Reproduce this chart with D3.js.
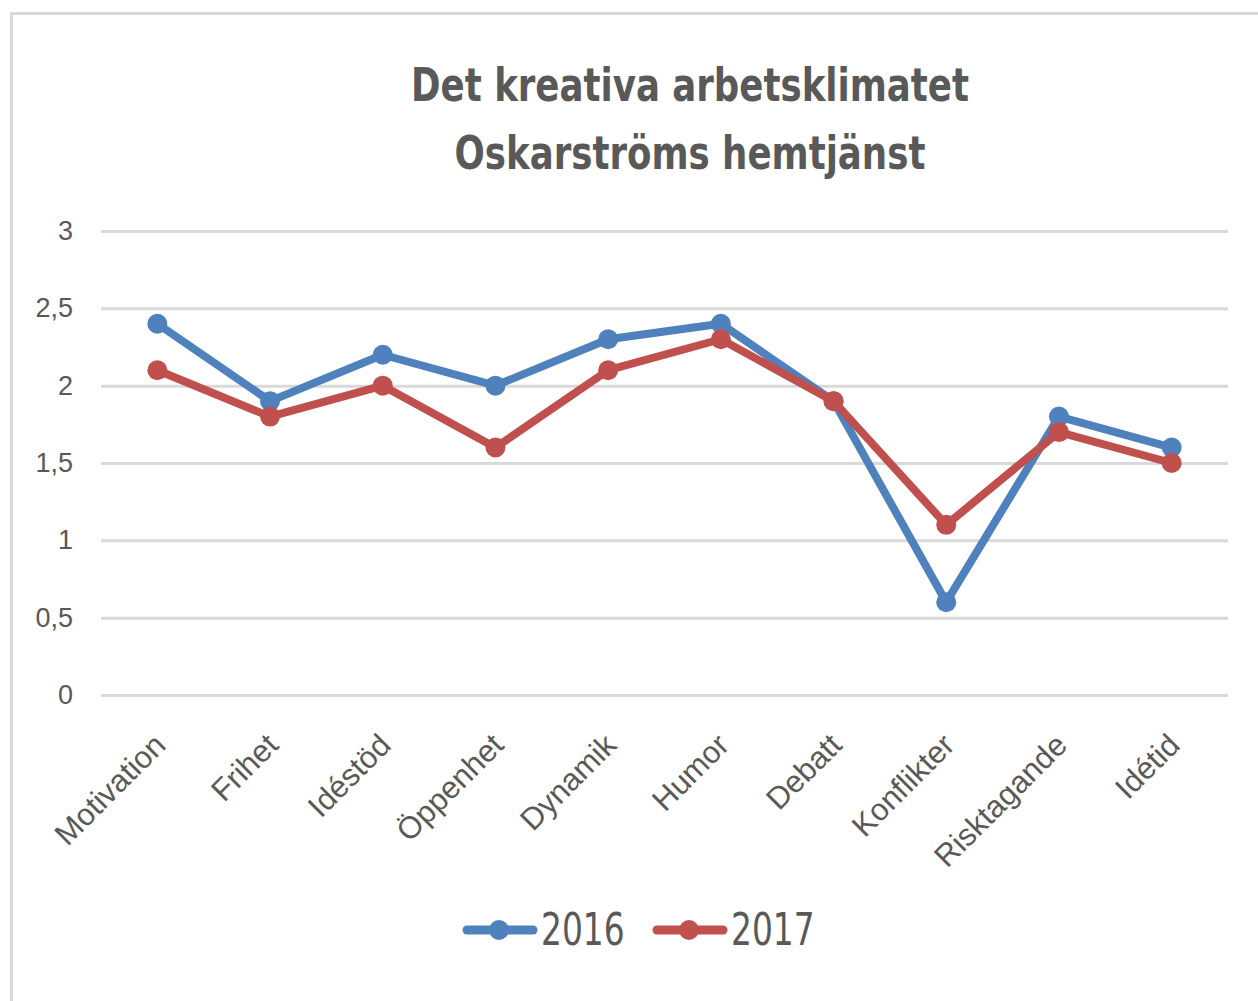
<!DOCTYPE html>
<html>
<head>
<meta charset="utf-8">
<script src="https://cdn.jsdelivr.net/npm/d3@7"></script>
<style>
  body { margin: 0; background: #fff; }
  text { fill: #595959; }
</style>
</head>
<body>
<div id="chart"></div>
<script>
// chart data
const categories = ["Motivation", "Frihet", "Idéstöd", "Öppenhet", "Dynamik",
  "Humor", "Debatt", "Konflikter", "Risktagande", "Idétid"];
const years = ["2016", "2017"];
const values2016 = [2.4, 1.9, 2.2, 2.0, 2.3, 2.4, 1.9, 0.6, 1.8, 1.6];
const values2017 = [2.1, 1.8, 2.0, 1.6, 2.1, 2.3, 1.9, 1.1, 1.7, 1.5];
const yTicks = [0, 0.5, 1, 1.5, 2, 2.5, 3];
const titleLines = ["Det kreativa arbetsklimatet", "Oskarströms hemtjänst"];

const colors = ["#4f81bd", "#c0504d"];

const svgWidth = 1258;
const svgHeight = 1001;

const margin = { top: 231, right: 30, bottom: 306, left: 101 };
const width = svgWidth - margin.left - margin.right;
const height = svgHeight - margin.top - margin.bottom;

const condensed = "'Liberation Sans Narrow', 'DejaVu Sans Condensed', sans-serif";

const svg = d3.select("#chart")
  .append("svg")
  .attr("width", svgWidth)
  .attr("height", svgHeight);

// outer frame
svg.append("rect")
  .attr("x", 11.5)
  .attr("y", 13.5)
  .attr("width", 1300)
  .attr("height", 1100)
  .attr("fill", "none")
  .attr("stroke", "#d9d9d9")
  .attr("stroke-width", 3);

// title, squeezed a bit to get the narrow look
svg.append("g")
  .attr("transform", "translate(690, 0) scale(0.86, 1)")
  .append("text")
  .attr("text-anchor", "middle")
  .style("font-family", condensed)
  .style("font-weight", "bold")
  .style("font-size", "46px")
  .selectAll("tspan")
  .data(titleLines)
  .enter()
  .append("tspan")
  .attr("x", 0)
  .attr("y", (d, i) => 101 + i * 68)
  .text(d => d);

const chartGroup = svg.append("g")
  .attr("transform", `translate(${margin.left}, ${margin.top})`);

const xScale = d3.scaleBand()
  .domain(categories)
  .range([0, width]);

const yScale = d3.scaleLinear()
  .domain([0, 3])
  .range([height, 0]);

// gridlines + y labels
const leftAxis = d3.axisLeft(yScale)
  .tickValues(yTicks)
  .tickSize(-width)
  .tickPadding(28)
  .tickFormat(d => String(d).replace(".", ","));

const yAxis = chartGroup.append("g")
  .call(leftAxis);
yAxis.select(".domain").remove();
yAxis.selectAll("line")
  .attr("stroke", "#d9d9d9")
  .attr("stroke-width", 3);
yAxis.selectAll("text")
  .attr("fill", "#595959")
  .style("font-family", "'Liberation Sans', Arial, sans-serif")
  .style("font-size", "27px");

// x labels
const bottomAxis = d3.axisBottom(xScale).tickSize(0).tickPadding(0);
const xAxis = chartGroup.append("g")
  .attr("transform", `translate(0, ${height})`)
  .call(bottomAxis);
xAxis.select(".domain").remove();
xAxis.selectAll("text")
  .attr("fill", "#595959")
  .attr("text-anchor", "end")
  .attr("dy", 0)
  .attr("y", 0)
  .attr("transform", "translate(10, 52) rotate(-45)")
  .style("font-family", "'Liberation Sans', Arial, sans-serif")
  .style("font-size", "31px");

const seriesData = [values2016, values2017];

const line = d3.line()
  .x((d, i) => xScale(categories[i]) + xScale.bandwidth() / 2)
  .y(d => yScale(d));

seriesData.forEach((vals, s) => {
  chartGroup.append("path")
    .datum(vals)
    .attr("d", line)
    .attr("fill", "none")
    .attr("stroke", colors[s])
    .attr("stroke-width", 8)
    .attr("stroke-linejoin", "round");

  chartGroup.selectAll(".dot" + s)
    .data(vals)
    .enter()
    .append("circle")
    .attr("cx", (d, i) => xScale(categories[i]) + xScale.bandwidth() / 2)
    .attr("cy", d => yScale(d))
    .attr("r", 10)
    .attr("fill", colors[s]);
});

// legend
const legend = svg.append("g")
  .attr("transform", "translate(463, 930)");

const legendItems = legend.selectAll("g")
  .data(years)
  .enter()
  .append("g")
  .attr("transform", (d, i) => `translate(${i * 190}, 0)`);

legendItems.append("line")
  .attr("x1", 4)
  .attr("x2", 70)
  .attr("stroke", (d, i) => colors[i])
  .attr("stroke-width", 9)
  .attr("stroke-linecap", "round");

legendItems.append("circle")
  .attr("cx", 36)
  .attr("r", 10)
  .attr("fill", (d, i) => colors[i]);

legendItems.append("text")
  .attr("transform", "translate(78, 15) scale(0.83, 1)")
  .style("font-family", condensed)
  .style("font-size", "44px")
  .text(d => d);
</script>
</body>
</html>
